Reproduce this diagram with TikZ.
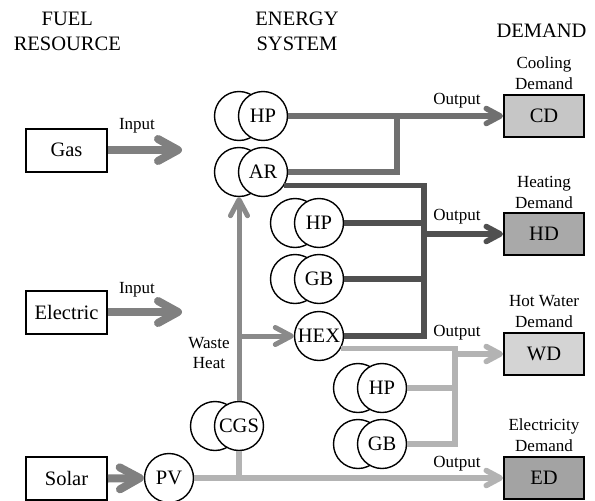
\documentclass[tikz,border=0pt]{standalone}
\usepackage{fontspec}
\setmainfont{Liberation Serif}
\usetikzlibrary{arrows.meta}

\newcommand{\bigtxt}{\fontsize{20.5}{24.7}\selectfont}
\newcommand{\smalltxt}{\fontsize{17}{20.7}\selectfont}

\definecolor{inputc}{HTML}{808080}
\definecolor{coolc}{HTML}{707070}
\definecolor{heatc}{HTML}{505050}
\definecolor{hwc}{HTML}{B3B3B3}
\definecolor{wastec}{HTML}{8A8A8A}
\definecolor{cdfill}{HTML}{C6C6C6}
\definecolor{hdfill}{HTML}{A9A9A9}
\definecolor{wdfill}{HTML}{D4D4D4}
\definecolor{edfill}{HTML}{A3A3A3}

\begin{document}
\begin{tikzpicture}[x=1pt, y=-1pt, line join=miter,
    srcbox/.style={draw, line width=2pt, minimum width=81pt, minimum height=43pt, inner sep=0pt, font=\bigtxt},
    dembox/.style={draw, line width=2pt, minimum width=80pt, minimum height=42pt, inner sep=0pt, font=\bigtxt},
    unit/.style={circle, draw, fill=white, line width=1.4pt, minimum size=49pt, inner sep=0pt, font=\bigtxt},
    hdr/.style={align=center, font=\bigtxt, inner sep=0pt},
    lbl/.style={font=\smalltxt, inner sep=0pt, anchor=base},
    dlbl/.style={align=center, font=\smalltxt, inner sep=0pt, anchor=south},
    feed/.style={line width=8pt, color=inputc, -{Straight Barb[round, length=20pt, width=22pt]}},
    outarr/.style={-{Straight Barb[round, length=14pt, width=15pt]}},
    wastearr/.style={-{Straight Barb[round, length=16pt, width=17pt]}},
    coolline/.style={line width=5.5pt, color=coolc},
    heatline/.style={line width=5.5pt, color=heatc},
    hwline/.style={line width=5.5pt, color=hwc},
    elecline/.style={line width=5.5pt, color=hwc},
    wasteline/.style={line width=5pt, color=wastec}]

\useasboundingbox (0,0) rectangle (595,501);

% column heads
\node[hdr] (fuel) at (67.3,31.6) {FUEL\\RESOURCE};
\node[hdr] (energy) at (297,31.2) {ENERGY\\SYSTEM};
\node[hdr, anchor=base] (demand) at (541.5,37.5) {DEMAND};

% fuel resources
\node[srcbox] (gas) at (66.5,150) {Gas};
\node[srcbox] (elec) at (66.5,312) {Electric};
\node[srcbox] (solar) at (66.5,478.5) {Solar};
\coordinate (gasin) at (182,150);
\coordinate (elecin) at (182,312);

% energy system units
\foreach \n/\t/\x/\y in {hpa/HP/263/116, ar/AR/263/172, hpb/HP/319/223, gbb/GB/319/279,
                         hpc/HP/382/388, gbc/GB/382/444, cgs/CGS/239/426} {
    \node[unit] (\n-back) at (\x-24,\y) {};
    \node[unit] (\n) at (\x,\y) {\t};
}
\node[unit] (hex) at (319,336) {HEX};
\node[unit] (pv) at (169,478) {PV};

% demands
\node[dembox, fill=cdfill] (cd) at (544,116) {CD};
\node[dembox, fill=hdfill] (hd) at (544,234) {HD};
\node[dembox, fill=wdfill] (wd) at (544,354) {WD};
\node[dembox, fill=edfill] (ed) at (544,478) {ED};
\node[dlbl] (cdlbl) at ([yshift=4pt]cd.north) {Cooling\\Demand};
\node[dlbl] (hdlbl) at ([yshift=3pt]hd.north) {Heating\\Demand};
\node[dlbl] (wdlbl) at ([yshift=4.5pt]wd.north) {Hot Water\\Demand};
\node[dlbl] (edlbl) at ([yshift=4.5pt]ed.north) {Electricity\\Demand};

% labels
\node[lbl] (ingas) at (137,129.3) {Input};
\node[lbl] (inelec) at (137,293.3) {Input};
\node[lbl] (outcd) at (457,104) {Output};
\node[lbl] (outhd) at (457,220.7) {Output};
\node[lbl] (outwd) at (457,336) {Output};
\node[lbl] (outed) at (457,467) {Output};
\node[align=center, font=\smalltxt, inner sep=0pt] (waste) at (209,353) {Waste\\Heat};

% inputs
\draw[feed] (gas.east) -- (gasin);
\draw[feed] (elec.east) -- (elecin);
\draw[feed] (solar.east) -- (pv.west);

% cooling
\coordinate (cj) at (397,116);
\draw[coolline] (ar.east) -| (cj);
\draw[coolline, outarr] (hpa.east) -- (cd.west);

% heating
\coordinate (hj) at (424,185);
\draw[heatline] (ar.-32) -- (ar.-32 -| hj) |- (hex.east);
\draw[heatline] (hpb.east) -- (hpb.east -| hj);
\draw[heatline] (gbb.east) -- (gbb.east -| hj);
\draw[heatline, outarr] (hd.west -| hj) -- (hd.west);

% hot water
\coordinate (wj) at (455,348);
\draw[hwline] (hex.-30) -- (hex.-30 -| wj) |- (gbc.east);
\draw[hwline] (hpc.east) -- (hpc.east -| wj);
\draw[hwline, outarr] (wd.west -| wj) -- (wd.west);

% electricity
\draw[elecline, outarr] (pv.east) -- (ed.west);
\draw[elecline] (cgs.south) -- (cgs.south |- pv.east);

% waste heat
\draw[wasteline, wastearr] (cgs.north) -- (ar-back.south);
\draw[wasteline, wastearr] (cgs.north |- hex.west) -- (hex.west);
\end{tikzpicture}
\end{document}
